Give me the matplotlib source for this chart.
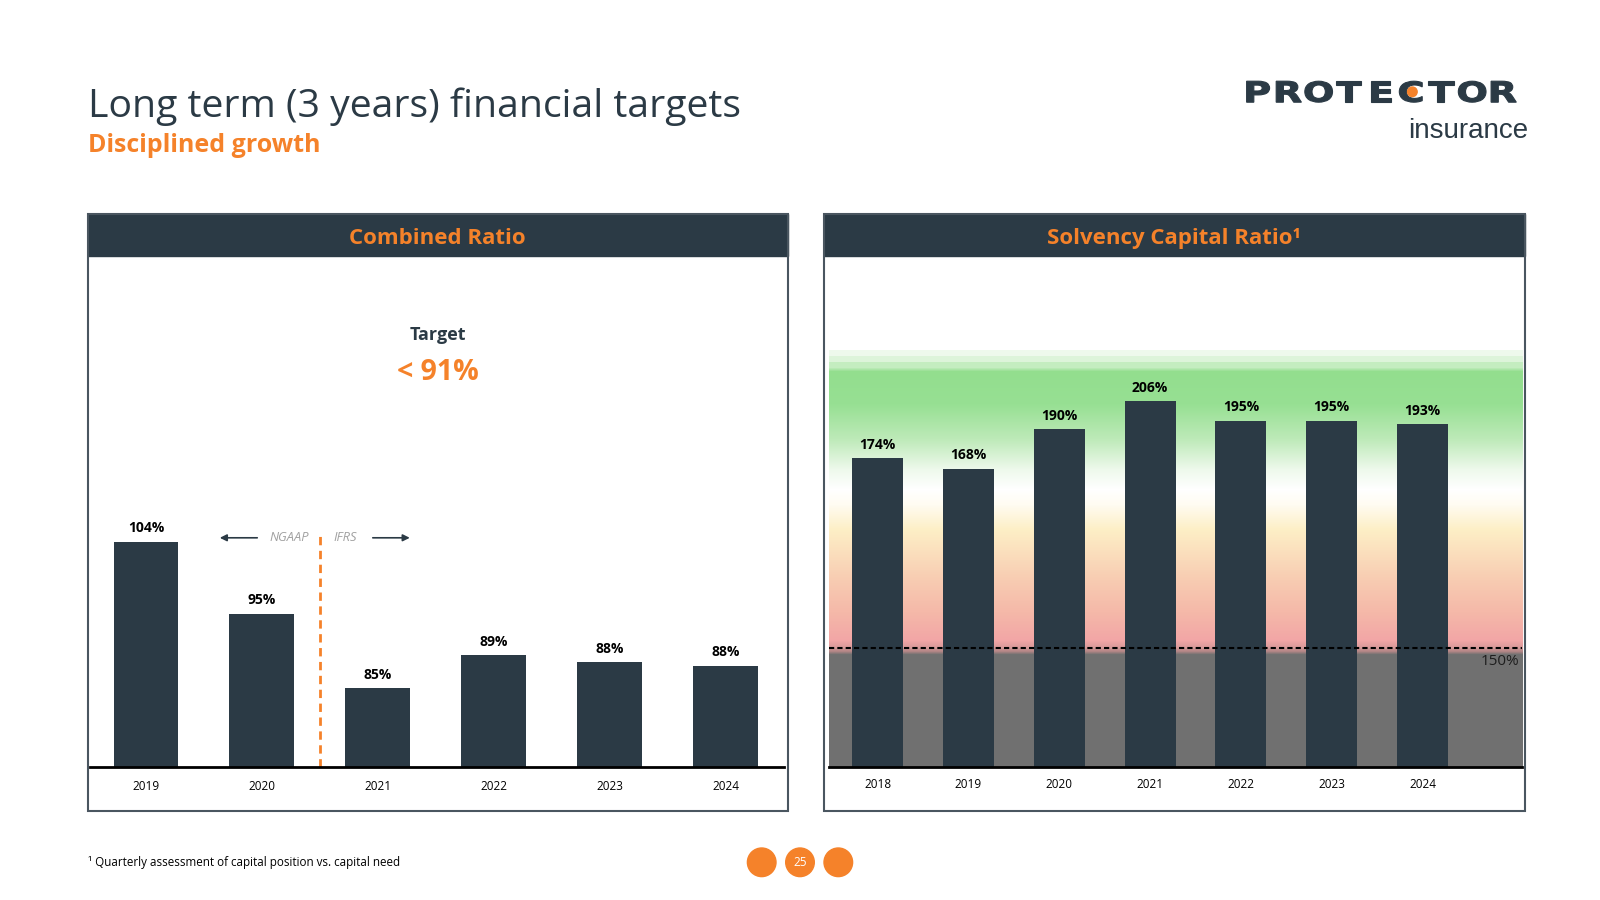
import numpy as np
import matplotlib
matplotlib.use("Agg")
import matplotlib.pyplot as plt
from matplotlib.patches import Rectangle, Circle, PathPatch
from matplotlib.textpath import TextPath
from matplotlib.font_manager import FontProperties
from matplotlib.transforms import Affine2D
from matplotlib.colors import to_rgb

# ---------------- data ----------------
cr_years = ["2019", "2020", "2021", "2022", "2023", "2024"]
cr_values = [104.1, 94.7, 85.0, 89.3, 88.3, 87.9]
cr_labels = ["104%", "95%", "85%", "89%", "88%", "88%"]

scr_years = ["2018", "2019", "2020", "2021", "2022", "2023", "2024"]
scr_values = [174, 168, 190, 206, 195, 195, 193]
scr_labels = ["174%", "168%", "190%", "206%", "195%", "195%", "193%"]

target_text = "< 91%"
threshold_label = "150%"

# ---------------- style ----------------
DARK = "#2B3A45"
ORANGE = "#F5822A"
FONT = "Open Sans"
plt.rcParams["font.family"] = [FONT, "DejaVu Sans"]

W, H = 1600, 900
fig = plt.figure(figsize=(16, 9), dpi=100)
fig.patch.set_facecolor("white")

# overlay axes in pixel coordinates
ov = fig.add_axes([0, 0, 1, 1], zorder=0)
ov.set_xlim(0, W)
ov.set_ylim(H, 0)
ov.axis("off")

def rect(x0, y0, x1, y1):
    return [x0 / W, 1 - y1 / H, (x1 - x0) / W, (y1 - y0) / H]

# title
ov.text(88, 116.7, "Long term (3 years) financial targets", fontsize=28.2,
        color=DARK, va="baseline", ha="left", family=FONT)
ov.text(88, 152.3, "Disciplined growth", fontsize=18, fontweight="bold",
        color=ORANGE, va="baseline", ha="left", family=FONT)

# logo: heavy, slightly extended letters
logo_fp = FontProperties(family="DejaVu Sans", weight="bold")
cap_h = 21.0
for i, ch in enumerate("PROTECTOR"):
    tp = TextPath((0, 0), ch, size=100, prop=logo_fp)
    v = tp.vertices
    x0, x1 = v[:, 0].min(), v[:, 0].max()
    y0, y1 = v[:, 1].min(), v[:, 1].max()
    s = cap_h / (y1 - y0)
    sx = s * 1.33
    cx = 1241.0 + (i + 0.5) * 30.7
    tr = Affine2D().translate(-(x0 + x1) / 2, -y0).scale(sx, -s).translate(cx, 102.2)
    ov.add_patch(PathPatch(tr.transform_path(tp), fc=DARK, ec=DARK, lw=0.8,
                           joinstyle="miter", zorder=4))
cdot_x = 1241.0 + 5.5 * 30.7 + 2.5
ov.add_patch(Circle((cdot_x, 91.8), 4.8, color=ORANGE, zorder=5))
ov.text(1528, 138, "insurance", ha="right", va="baseline", fontsize=20,
        color=DARK, family="Liberation Sans")

# panels
for (x0, x1, title) in [(87.8, 787.8, "Combined Ratio"),
                        (823.5, 1524.5, "Solvency Capital Ratio\u00b9")]:
    ov.add_patch(Rectangle((x0, 214.3), x1 - x0, 811.2 - 214.3, fill=False,
                           ec="#4A5660", lw=1.5, zorder=3))
    ov.add_patch(Rectangle((x0, 214.3), x1 - x0, 256.1 - 214.3, fc=DARK,
                           ec=DARK, lw=1.0, zorder=2))
    ov.text((x0 + x1) / 2, 244.3, title, ha="center", va="baseline", fontsize=16,
            fontweight="bold", color=ORANGE, family=FONT, zorder=4)

# target text
ov.text(437.8, 340, "Target", ha="center", va="baseline", fontsize=13,
        fontweight="bold", color=DARK, family=FONT)
ov.text(437.8, 379.5, target_text, ha="center", va="baseline", fontsize=20.5,
        fontweight="bold", color=ORANGE, family=FONT)

# footer
ov.text(88, 866, "\u00b9 Quarterly assessment of capital position vs. capital need",
        ha="left", va="baseline", fontsize=8.4, color="black", family=FONT)
for cx in (761.7, 800.0, 838.3):
    ov.add_patch(Circle((cx, 862.3), 14.3, color=ORANGE))
ov.text(800.0, 862.3, "25", ha="center", va="center", fontsize=8.5,
        color="white", family=FONT)

# ---------------- Combined ratio chart ----------------
base_y = 767.3
top_y = 260.0
ax1 = fig.add_axes(rect(90, top_y, 784, base_y), zorder=2)
ax1.set_facecolor("none")
x1 = np.arange(len(cr_years))
ymin1 = 74.6
ax1.set_ylim(ymin1, ymin1 + (base_y - top_y) / 7.65)
ax1.set_xlim(-0.483, 5.505)
ax1.bar(x1, np.array(cr_values) - ymin1, bottom=ymin1, width=0.56, color=DARK, zorder=2)
for xi, v, lab in zip(x1, cr_values, cr_labels):
    ax1.annotate(lab, (xi, v), xytext=(0, 9.5), textcoords="offset points",
                 ha="center", va="center", fontsize=10, fontweight="bold",
                 color="black", family=FONT)
ax1.set_xticks(x1)
ax1.set_xticklabels(cr_years, fontsize=8.5, color="black", family=FONT)
ax1.tick_params(axis="x", length=0, pad=9)
ax1.set_yticks([])
for s in ("left", "right", "top"):
    ax1.spines[s].set_visible(False)
ax1.spines["bottom"].set_color("black")
ax1.spines["bottom"].set_linewidth(2)
ax1.spines["bottom"].set_zorder(3)

# NGAAP / IFRS divider
ax1.plot([1.5, 1.5], [ymin1, 105.5], color=ORANGE, lw=2, ls=(0, (3, 2)), zorder=3)
ay = 104.6
ax1.annotate("", xy=(0.613, ay), xytext=(0.984, ay),
             arrowprops=dict(arrowstyle="-|>", color=DARK, lw=1.2, mutation_scale=10))
ax1.annotate("", xy=(2.30, ay), xytext=(1.933, ay),
             arrowprops=dict(arrowstyle="-|>", color=DARK, lw=1.2, mutation_scale=10))
ax1.text(1.234, ay, "NGAAP", ha="center", va="center", fontsize=9.3,
         style="italic", color="#A0A0A0", family=FONT)
ax1.text(1.717, ay, "IFRS", ha="center", va="center", fontsize=9.3,
         style="italic", color="#A0A0A0", family=FONT)

# ---------------- Solvency chart ----------------
ax2 = fig.add_axes(rect(828.6, top_y, 1522.4, base_y), zorder=2)
ax2.set_facecolor("none")
x2 = np.arange(len(scr_years))
ax2.set_ylim(0, (base_y - top_y) / 1.778)
ax2.set_xlim(-0.54, 7.10)

# background gradient (rows in pixel space)
stops = [(260, "#FFFFFF"), (350, "#FFFFFF"), (351, "#EEF9EC"), (356, "#EEF9EC"),
         (357, "#DDF4DA"), (362, "#DDF4DA"), (363, "#C4EDC0"), (368, "#C4EDC0"),
         (372, "#93DE8E"), (405, "#97E093"), (440, "#BEEAB9"),
         (470, "#EEF9EC"), (490, "#FFFFFF"), (505, "#FFFCF2"), (530, "#FDEFC6"),
         (580, "#F8CCB2"), (612, "#F5B9A9"), (641, "#F2A6A6"), (648, "#D99A9A"),
         (652, "#B08585"), (655, "#717171"), (768, "#707070")]
ys = np.arange(top_y, base_y, 1.0)
sy = np.array([s[0] for s in stops], float)
sc = np.array([to_rgb(s[1]) for s in stops])
img = np.stack([np.interp(ys, sy, sc[:, k]) for k in range(3)], axis=-1)
img = np.repeat(img[:, None, :], 4, axis=1)
ax2.imshow(img, extent=(0, 1, 0, 1), transform=ax2.transAxes, aspect="auto",
           origin="upper", interpolation="nearest", zorder=0)

ax2.bar(x2, scr_values, width=0.56, color=DARK, zorder=2)
for xi, v, lab in zip(x2, scr_values, scr_labels):
    ax2.annotate(lab, (xi, v), xytext=(0, 9.5), textcoords="offset points",
                 ha="center", va="center", fontsize=10, fontweight="bold",
                 color="black", family=FONT)
dash_frac = (base_y - 648) / (base_y - top_y)
ax2.axhline(dash_frac * ax2.get_ylim()[1], color="black", lw=1.5,
            ls=(0, (2.5, 1.5)), zorder=4)
ax2.text(0.995, (base_y - 661.7) / (base_y - top_y), threshold_label,
         transform=ax2.transAxes, ha="right", va="center", fontsize=11,
         color="#1E1E1E", family=FONT, zorder=5)
ax2.set_xticks(x2)
ax2.set_xticklabels(scr_years, fontsize=8.5, color="black", family=FONT)
ax2.tick_params(axis="x", length=0, pad=7.5)
ax2.set_yticks([])
for s in ("left", "right", "top"):
    ax2.spines[s].set_visible(False)
ax2.spines["bottom"].set_color("black")
ax2.spines["bottom"].set_linewidth(2)
ax2.spines["bottom"].set_zorder(3)

fig.savefig("out.png", dpi=100, facecolor="white")
